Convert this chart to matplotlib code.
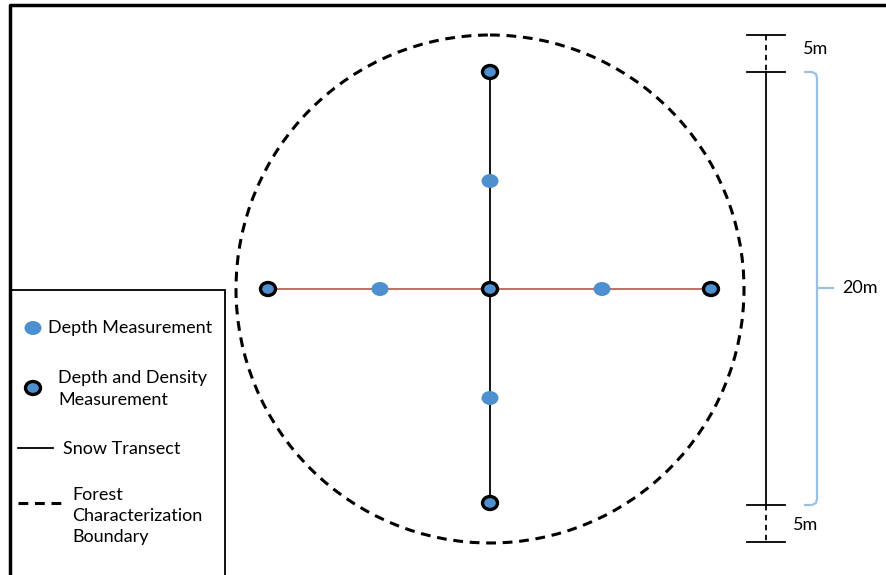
import matplotlib
matplotlib.use("Agg")
import matplotlib.pyplot as plt
from matplotlib.patches import Ellipse, Circle, Rectangle

plt.rcParams['font.family'] = ['Lato', 'DejaVu Sans']

# plot layout in pixel units (origin top-left)
center = (490, 289)
transect_x = [268, 711]          # horizontal snow transect ends
transect_y = [72, 503]           # vertical snow transect ends
depth_pts = [(490, 181), (380, 289), (602, 289), (490, 398)]
dens_pts = [(490, 72), (268, 289), (490, 289), (711, 289), (490, 503)]
boundary_r = 254

scale_x = 766
scale_ticks = [35, 72, 505, 542]
scale_labels = ["5m", "20m", "5m"]

legend_labels = ["Depth Measurement", "Depth and Density\nMeasurement",
                 "Snow Transect", "Forest\nCharacterization\nBoundary"]

blue = "#4e90cf"
fs = 13
fig = plt.figure(figsize=(8.86, 5.75), dpi=100)
ax = fig.add_axes([0, 0, 1, 1])
ax.set_xlim(0, 886)
ax.set_ylim(575, 0)
ax.axis("off")

# outer frame (top and left only, picture is cropped)
ax.plot([10, 10, 886], [575, 5, 5], color="black", lw=2.5, solid_capstyle="butt")

# boundary circle
ax.add_patch(Circle(center, boundary_r, fill=False, ec="black", lw=2.2,
                    linestyle=(0, (3.2, 2.2))))

# transects
ax.plot(transect_x, [center[1]] * 2, color="#b0473c", lw=1.1, zorder=2)
ax.plot([center[0]] * 2, transect_y, color="black", lw=1.3, zorder=2)

for x, y in depth_pts:
    ax.add_patch(Ellipse((x, y), 17, 14, fc=blue, ec="none", zorder=3))
for x, y in dens_pts:
    ax.add_patch(Ellipse((x, y), 15, 13, fc=blue, ec="black", lw=2.4, zorder=3))

# scale bar
ax.plot([scale_x, scale_x], [scale_ticks[1], scale_ticks[2]], color="black", lw=1.3)
ax.plot([scale_x, scale_x], [scale_ticks[0], scale_ticks[1]], color="black", lw=1.3,
        linestyle=(0, (3, 2.5)))
ax.plot([scale_x, scale_x], [scale_ticks[2], scale_ticks[3]], color="black", lw=1.3,
        linestyle=(0, (3, 2.5)))
for t in scale_ticks:
    ax.plot([747, 785], [t, t], color="black", lw=1.3)
ax.text(803, 49, scale_labels[0], fontsize=fs, va="center", ha="left")
ax.text(793, 525, scale_labels[2], fontsize=fs, va="center", ha="left")

# blue bracket
bc = "#9dc0de"
ax.plot([805, 812, 816, 817, 817, 816, 812, 805],
        [72, 72, 74, 78, 499, 503, 505, 505], color=bc, lw=1.6)
ax.plot([817, 833], [288, 288], color=bc, lw=1.6)
ax.text(842, 288, scale_labels[1], fontsize=fs, va="center", ha="left")

# legend box
ax.add_patch(Rectangle((10, 290), 215, 300, fill=False, ec="black", lw=1.3))
ax.add_patch(Ellipse((33, 328), 17, 14, fc=blue, ec="none"))
ax.text(48, 328, legend_labels[0], fontsize=fs, va="center", ha="left")
ax.add_patch(Ellipse((33, 388), 15, 13, fc=blue, ec="black", lw=2.4))
ax.text(58, 389, legend_labels[1], fontsize=fs, va="center", ha="left",
        linespacing=1.4)
ax.plot([18, 53], [448, 448], color="black", lw=1.3)
ax.text(63, 449, legend_labels[2], fontsize=fs, va="center", ha="left")
ax.plot([18, 61], [503, 503], color="black", lw=2.2, linestyle=(0, (3.2, 2.2)))
ax.text(72, 516, legend_labels[3], fontsize=fs, va="center", ha="left",
        linespacing=1.4)

fig.savefig("out.png", dpi=100)
